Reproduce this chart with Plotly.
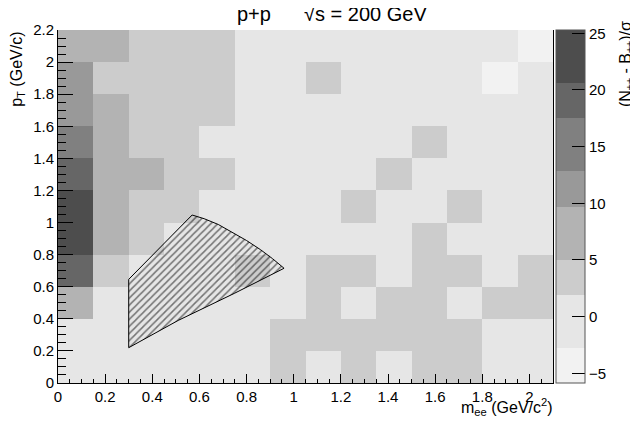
import plotly.graph_objects as go

# bin edges of the 2D histogram
x_edges = [0, 0.15, 0.3, 0.45, 0.6, 0.75, 0.9, 1.05, 1.2, 1.35, 1.5, 1.65, 1.8, 1.95, 2.1]
y_edges = [0, 0.2, 0.4, 0.6, 0.8, 1.0, 1.2, 1.4, 1.6, 1.8, 2.0, 2.2]

# (N - B)/sigma per cell, rows from low pT to high pT
sig = [
    [0.4, -0.8, 0.9, -0.3, 1.1, 0.2, 3.2, 1.4, 3.6, 0.7, 3.3, 2.8, -0.5, 0.6],
    [1.2, 0.3, -0.6, 0.8, -1.1, 1.5, 2.7, 3.1, 4.2, 2.9, 3.4, 3.8, 0.9, -0.4],
    [6.4, 0.8, -1.2, 0.5, 1.3, -0.2, 1.7, 3.5, 1.1, 2.6, 4.0, 0.6, 3.0, 2.4],
    [18.6, 2.8, 1.0, 0.4, 1.6, 3.3, 1.2, 2.5, 4.4, 0.9, 3.0, 2.2, 1.4, 2.7],
    [22.4, 7.9, 4.1, 1.5, 0.7, -0.9, 1.1, 0.3, 1.8, -0.6, 2.9, 0.5, 1.0, -1.3],
    [24.3, 8.6, 4.6, 3.2, 1.4, 0.2, -0.7, 1.3, 2.6, 0.8, 1.7, 3.1, -0.2, 0.5],
    [19.7, 7.2, 6.1, 4.3, 2.3, 1.6, 0.4, -0.5, 1.2, 2.8, 0.6, -1.0, 0.9, 1.5],
    [15.4, 8.1, 3.9, 2.4, 1.8, 0.5, 1.3, -0.8, 0.7, 1.6, 3.4, 0.2, -0.3, 1.1],
    [11.8, 6.9, 4.5, 3.6, 2.7, 1.2, -0.4, 0.8, 1.5, 0.1, -1.1, 0.6, 1.4, 0.3],
    [10.6, 4.8, 3.4, 2.9, 3.7, 0.9, 1.7, 2.5, 0.3, -0.6, 1.0, 0.4, -3.6, 0.7],
    [6.8, 5.9, 4.2, 3.0, 2.6, 1.1, 0.6, -0.2, 1.3, 0.8, -0.9, 1.5, 0.2, -3.1],
]

# palette contour boundaries and grey levels
levels = [-5.86, -2.74, 1.90, 4.99, 9.70, 12.85, 17.50, 20.59, 25.29]
greys = [242, 230, 204, 179, 153, 128, 102, 77]

# acceptance region outline (m_ee, pT)
region_x = [0.30, 0.30, 0.569, 0.62, 0.68, 0.74, 0.80, 0.86, 0.91, 0.959, 0.75, 0.51, 0.30]
region_y = [0.22, 0.646, 1.047, 1.024, 0.988, 0.94, 0.888, 0.83, 0.775, 0.715, 0.56, 0.39, 0.22]

zmin, zmax = levels[0], levels[-1]
cscale = []
for i, g in enumerate(greys):
    c = f"rgb({g},{g},{g})"
    cscale.append([(levels[i] - zmin) / (zmax - zmin), c])
    cscale.append([(levels[i + 1] - zmin) / (zmax - zmin), c])

font = "Liberation Sans, Arial, sans-serif"

fig = go.Figure()
fig.add_trace(go.Heatmap(
    x=x_edges, y=y_edges, z=sig,
    zmin=zmin, zmax=zmax, colorscale=cscale,
    colorbar=dict(
        x=1.006, xanchor="left", xpad=0, y=0, yanchor="bottom", len=1, ypad=0,
        thickness=29, outlinewidth=1, outlinecolor="#555",
        tickvals=[-5, 0, 5, 10, 15, 20, 25], ticks="inside", ticklen=13,
        tickcolor="black", tickfont=dict(size=15, color="black", family=font),
    ),
    hoverinfo="skip",
))
fig.add_trace(go.Scatter(
    x=region_x, y=region_y, mode="lines", fill="toself",
    line=dict(color="black", width=1),
    fillcolor="rgba(0,0,0,0)",
    fillpattern=dict(shape="/", size=5, solidity=0.3, fgcolor="black",
                     bgcolor="rgba(0,0,0,0)", fillmode="overlay"),
    showlegend=False, hoverinfo="skip",
))
# empty trace on a helper axis that only carries the top-aligned y title
fig.add_trace(go.Scatter(x=[None], y=[None], yaxis="y2", showlegend=False, hoverinfo="skip"))

# the page body adds an 8px margin, so the figure is 8px smaller than the window
fig.update_layout(
    width=630, height=422,
    margin=dict(l=50, r=85, t=22, b=47, autoexpand=False),
    paper_bgcolor="white", plot_bgcolor="rgba(0,0,0,0)",
    font=dict(family=font, color="black"),
    xaxis=dict(
        range=[0, 2.1], dtick=0.2, tick0=0, ticks="inside", ticklen=9,
        tickcolor="black", showline=True, linecolor="black", linewidth=1,
        showgrid=False, zeroline=False,
        tickfont=dict(size=15, color="black", family=font),
        minor=dict(dtick=0.05, ticks="inside", ticklen=4, tickcolor="black", showgrid=False),
    ),
    yaxis=dict(
        domain=[0, 1], range=[0, 2.2], dtick=0.2, tick0=0, ticks="inside", ticklen=15,
        tickcolor="black", showline=True, linecolor="black", linewidth=1,
        mirror=True, showgrid=False, zeroline=False,
        tickfont=dict(size=15, color="black", family=font),
        minor=dict(dtick=0.05, ticks="inside", ticklen=8, tickcolor="black", showgrid=False),
    ),
    yaxis2=dict(
        domain=[0.778, 1.0], anchor="x", showticklabels=False, ticks="",
        showline=False, showgrid=False, zeroline=False, automargin=False,
        title=dict(text="p<sub>T</sub> (GeV/c)", font=dict(size=16), standoff=35),
    ),
    annotations=[
        dict(text="p+p", xref="paper", yref="paper", x=0.434, y=1.044,
             xanchor="right", yanchor="middle", showarrow=False, font=dict(size=20)),
        dict(text="√s = 200 GeV", xref="paper", yref="paper", x=0.493, y=1.044,
             xanchor="left", yanchor="middle", showarrow=False, font=dict(size=20)),
        dict(text="m<sub>ee</sub> (GeV/c<sup>2</sup>)", xref="paper", yref="paper",
             x=1.004, y=-0.03, xanchor="right", yanchor="top", showarrow=False,
             font=dict(size=16)),
        dict(text="(N<sub>±±</sub> - B<sub>±±</sub>)/σ", xref="paper", yref="paper",
             x=1.125, y=1.032, xanchor="left", yanchor="top", textangle=-90,
             showarrow=False, font=dict(size=16)),
    ],
)

fig.write_html("out.html")
